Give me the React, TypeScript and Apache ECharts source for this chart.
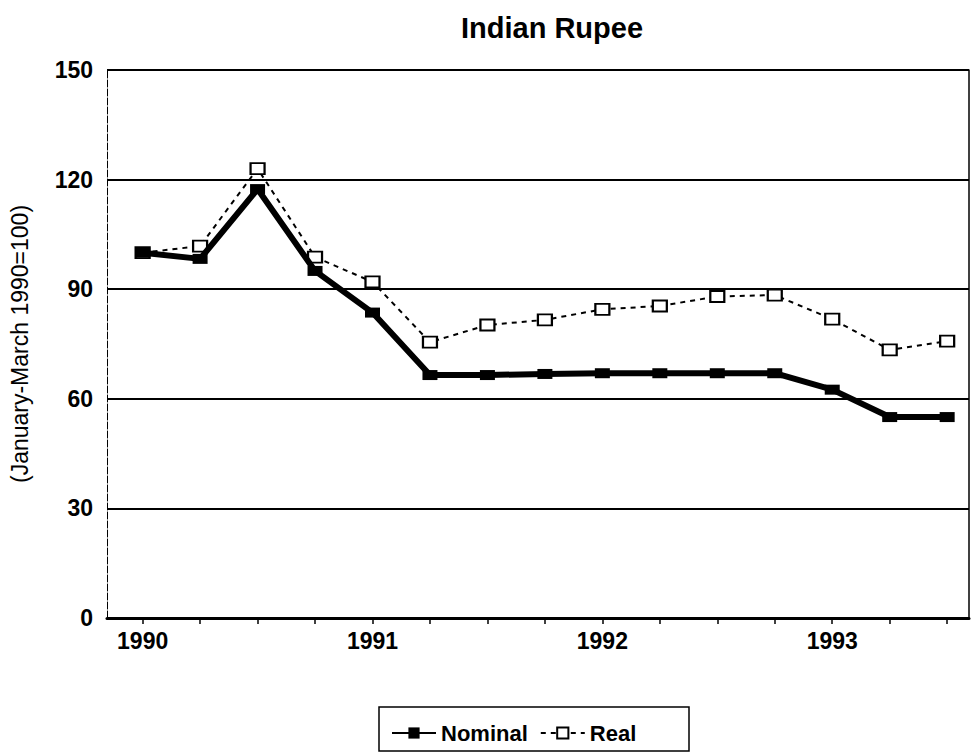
import React, { useEffect, useRef } from "react";
import * as echarts from "echarts";

const quarters = [
  "1990 Q1", "1990 Q2", "1990 Q3", "1990 Q4",
  "1991 Q1", "1991 Q2", "1991 Q3", "1991 Q4",
  "1992 Q1", "1992 Q2", "1992 Q3", "1992 Q4",
  "1993 Q1", "1993 Q2", "1993 Q3",
];
const nominal = [100, 98.3, 117.4, 95, 83.6, 66.5, 66.5, 66.8, 67, 67, 67, 67, 62.5, 55, 55];
const real = [100, 101.8, 123, 98.8, 92, 75.5, 80.2, 81.6, 84.5, 85.4, 88, 88.4, 81.8, 73.4, 75.8];
const yearTickIdx = [0, 4, 8, 12];
const yMin = 0;
const yMax = 150;
const yStep = 30;

const FONT = "'Liberation Sans', Arial, sans-serif";

export default function App() {
  const ref = useRef<HTMLDivElement>(null);
  useEffect(() => {
    if (!ref.current) return;
    const chart = echarts.init(ref.current, null, { renderer: "svg" });
    const allIdx = quarters.map((_, i) => i);
    chart.setOption({
      animation: false,
      backgroundColor: "#fff",
      title: {
        text: "Indian Rupee",
        left: 547,
        textAlign: "center",
        top: 8,
        textStyle: { fontFamily: FONT, fontSize: 29, fontWeight: "bold", color: "#000" },
      },
      grid: { left: 101, right: 5, top: 70, bottom: 135 },
      xAxis: {
        type: "value",
        min: -0.62,
        max: 14.38,
        splitLine: { show: false },
        axisLine: { show: true, lineStyle: { color: "#000", width: 3 } },
        axisTick: {
          show: true,
          customValues: allIdx,
          length: 6,
          inside: false,
          lineStyle: { color: "#000", width: 1.5 },
        },
        axisLabel: {
          customValues: yearTickIdx,
          formatter: (v: number) => quarters[Math.round(v)]?.slice(0, 4) ?? "",
          fontFamily: FONT,
          fontSize: 23,
          fontWeight: "bold",
          color: "#000",
          margin: 11,
        },
      },
      yAxis: [
        {
          type: "value",
          min: yMin,
          max: yMax,
          interval: yStep,
          name: "(January-March 1990=100)",
          nameLocation: "middle",
          nameRotate: 90,
          nameGap: 76,
          nameTextStyle: { fontFamily: FONT, fontSize: 23, color: "#000" },
          axisLine: { show: true, onZero: false, lineStyle: { color: "#000", width: 1, type: [7, 2] } },
          axisTick: { show: false },
          axisLabel: {
            fontFamily: FONT,
            fontSize: 23,
            fontWeight: "bold",
            color: "#000",
            margin: 14,
          },
          splitLine: { show: true, lineStyle: { color: "#000", width: 2 } },
        },
        {
          type: "value",
          min: yMin,
          max: yMax,
          interval: yStep,
          position: "right",
          axisLine: { show: true, onZero: false, lineStyle: { color: "#000", width: 1.5 } },
          axisTick: { show: false },
          axisLabel: { show: false },
          splitLine: { show: false },
        },
      ],
      legend: {
        data: ["Nominal", "Real"],
        left: 386,
        top: 717,
        itemWidth: 44,
        itemHeight: 14,
        itemGap: 12,
        textStyle: { fontFamily: FONT, fontSize: 22, fontWeight: "bold", color: "#000" },
      },
      graphic: [
        {
          type: "rect",
          shape: { x: 379, y: 707, width: 310, height: 44 },
          style: { fill: "none", stroke: "#000", lineWidth: 1.5 },
        },
      ],
      series: [
        {
          name: "Nominal",
          type: "line",
          data: nominal.map((v, i) => [i, v]),
          symbol: "rect",
          symbolSize: [15, 10],
          lineStyle: { color: "#000", width: 6 },
          itemStyle: { color: "#000" },
          z: 3,
        },
        {
          name: "Real",
          type: "line",
          data: real.map((v, i) => [i, v]),
          symbol: "rect",
          symbolSize: [14, 11],
          lineStyle: { color: "#000", width: 2, type: [5, 5] },
          itemStyle: { color: "#fff", borderColor: "#000", borderWidth: 2 },
          z: 2,
        },
      ],
    });
    return () => chart.dispose();
  }, []);
  return (
    <div
      ref={ref}
      style={{ position: "absolute", left: 0, top: 0, width: 974, height: 753 }}
    />
  );
}
